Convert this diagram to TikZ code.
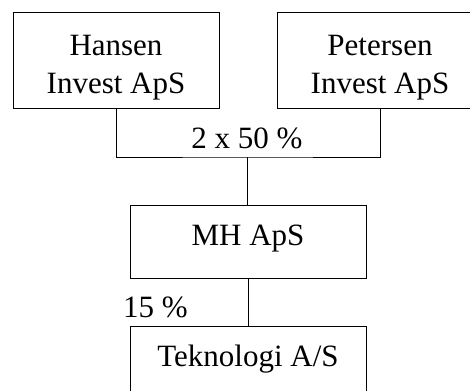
\documentclass[tikz,border=0pt]{standalone}
\usepackage{fontspec}
\setmainfont{Liberation Serif}
\usetikzlibrary{positioning}
\newcommand{\toplift}{\rule{0pt}{33pt}}
\tikzset{company/.style={rectangle,draw=black,line width=1pt,inner sep=0pt,
align=center, font=\fontsize{31}{38}\selectfont},
holder/.style={company,minimum width=206pt,minimum height=96pt},
owned/.style={company,minimum width=236pt,minimum height=73pt,
text height=21pt,text depth=14pt},
share/.style={inner sep=0pt,anchor=base,font=\fontsize{31}{38}\selectfont},
-/.style={color=black,line width=1pt}}
\begin{document}
\begin{tikzpicture}[x=1pt,y=1pt]
  \useasboundingbox (0,0) rectangle (470,-390);
  \clip (0,0) rectangle (470,-390);
  \node (hansen) [holder] at (116,-61) {\toplift Hansen\\Invest ApS};
  \node (petersen) [holder] at (380,-61) {\toplift Petersen\\Invest ApS};
  \node (mh) [owned] at (248,-241.5) {MH ApS};
  \node (tek) [owned] at (248,-362.5) {Teknologi A/S};
  \coordinate (join) at (247,-157);
  \node (fifty) [share] at (247,-148) {2 x 50 \%};
  \node (fifteen) [share,anchor=base west] at (123,-317) {15 \%};
  \draw [-] (hansen.south) |- (join) -| (petersen.south);
  \draw [-] (join) -- (join |- mh.north);
  \draw [-] (mh.south) -- (tek.north);
\end{tikzpicture}
\end{document}
